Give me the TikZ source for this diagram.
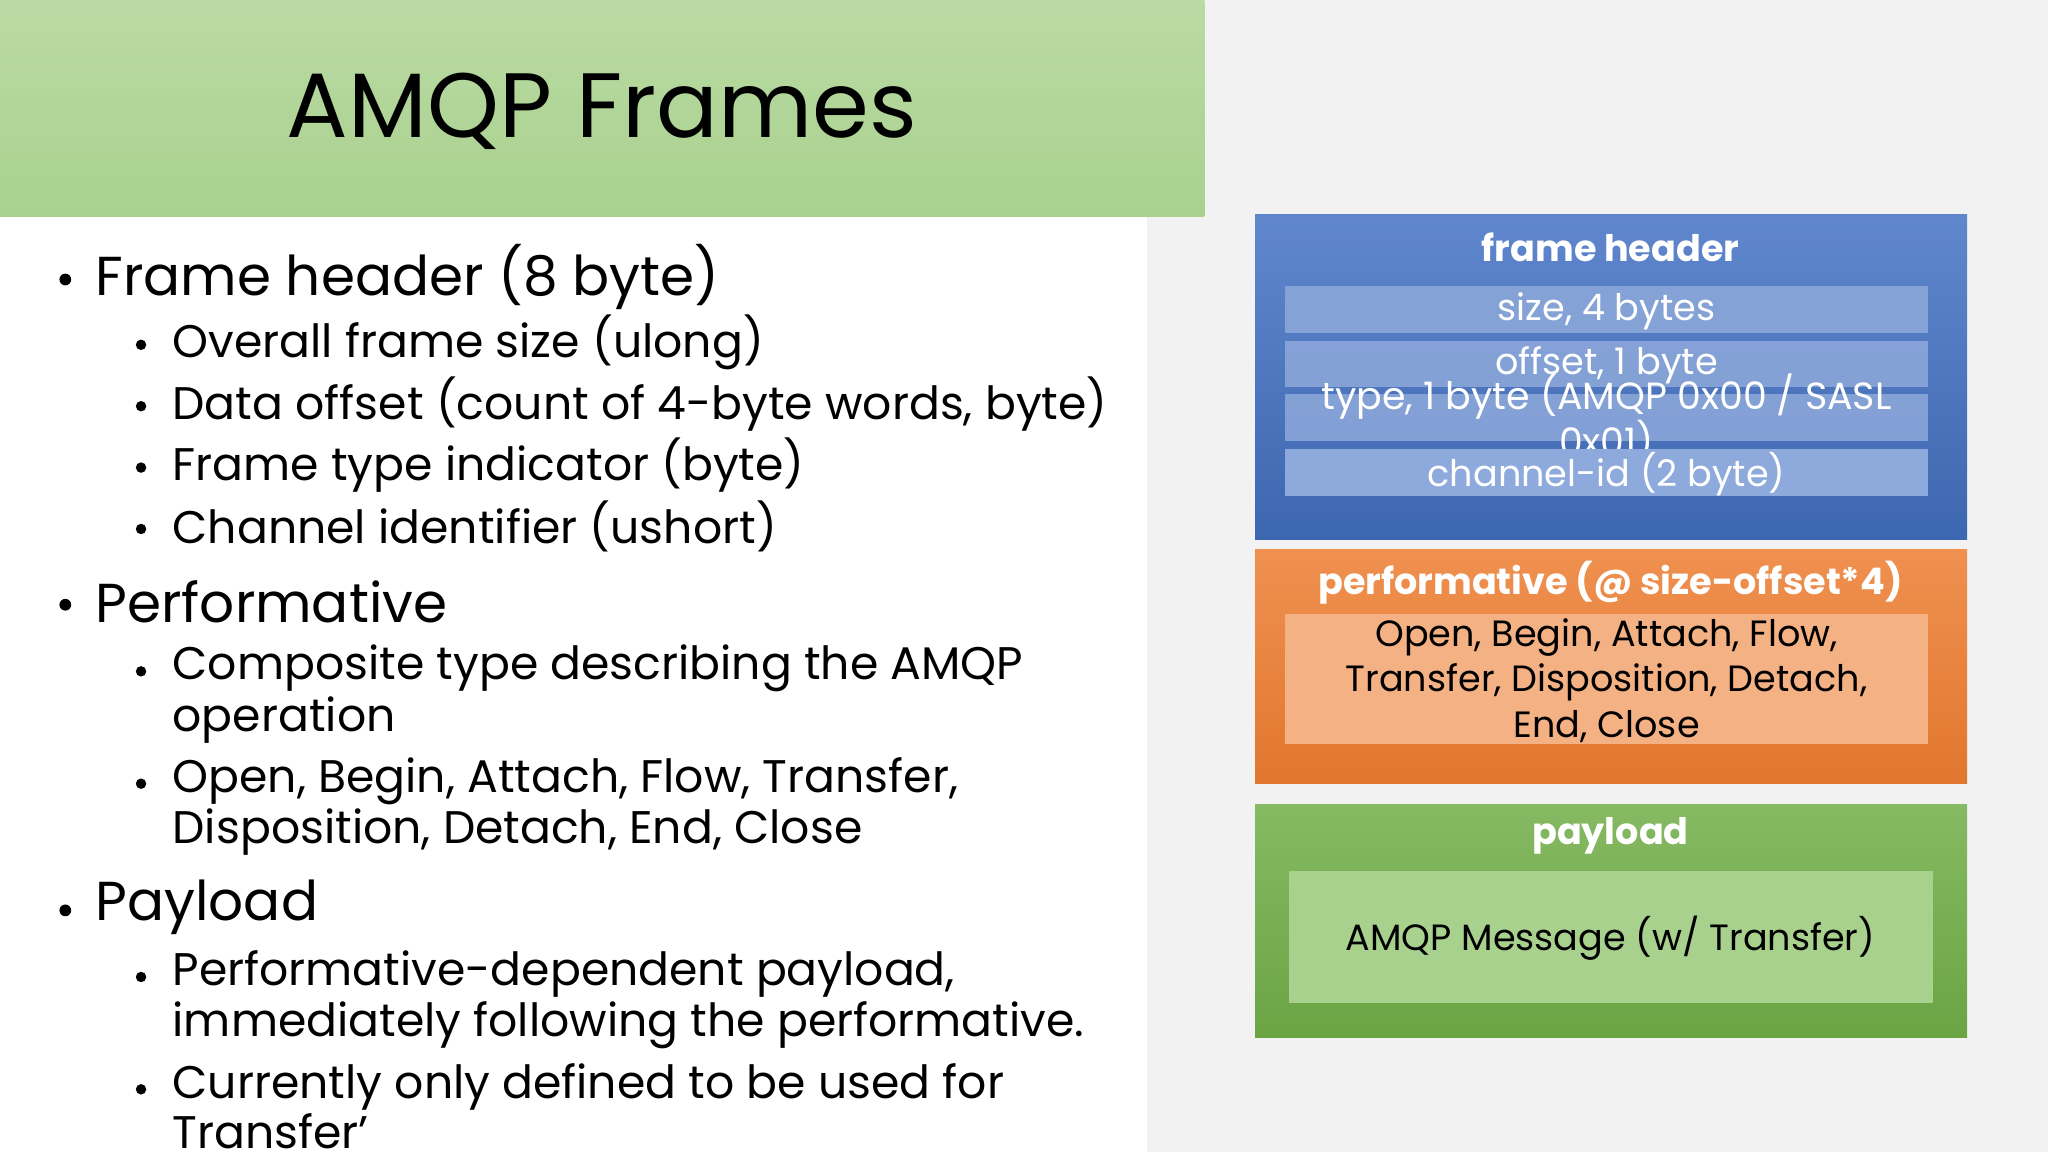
\documentclass[tikz,border=0pt]{standalone}
\usepackage{fontspec}
\setmainfont{Poppins}
\definecolor{bg}{HTML}{F2F2F2}
\definecolor{titlegreen}{HTML}{A9D18E}
\definecolor{bblue}{HTML}{4472C4}
\definecolor{bblueL}{HTML}{8EA9DB}
\definecolor{borange}{HTML}{ED7D31}
\definecolor{borangeL}{HTML}{F4B183}
\definecolor{bgreen}{HTML}{70AD47}
\definecolor{bgreenL}{HTML}{A9D18E}
\tikzset{
 lone/.style={anchor=west,font=\fontsize{42}{46}\selectfont,inner sep=0pt},
 ltwo/.style={anchor=west,font=\fontsize{35}{39}\selectfont,inner sep=0pt},
 bul/.style={circle,fill=black,inner sep=0pt,minimum size=9pt},
 btitle/.style={text=white,font=\fontsize{28}{30}\selectfont\bfseries},
 btext/.style={text=white,font=\fontsize{28}{30}\selectfont},
 dtext/.style={text=black,font=\fontsize{28}{35}\selectfont,align=center}
}
\begin{document}
\begin{tikzpicture}[x=1pt,y=-1pt]
\useasboundingbox (0,0) rectangle (1568,882);
\fill[bg] (0,0) rectangle (1568,882);
\fill[white] (0,166) rectangle (878,882);
\shade[top color=titlegreen!80!white,bottom color=titlegreen] (0,0) rectangle (922,166);
\node[font=\fontsize{70}{70}\selectfont] (title) at (461,85) {AMQP Frames};
% bullets
\foreach \y/\t in {212/Frame header (8 byte),461/Performative,695/Payload}{
 \node[bul] at (50,\y+2) {};
 \node[lone] at (73,\y) {\t};}
\foreach \y/\t in {262/Overall frame size (ulong),309/{Data offset (count of 4-byte words, byte)},356/Frame type indicator (byte),403/Channel identifier (ushort),512/Composite type describing the AMQP,598/{Open, Begin, Attach, Flow, Transfer,},746/{Performative-dependent payload,},832/Currently only defined to be used for}{
 \node[bul,minimum size=8pt] at (108,\y+2) {};
 \node[ltwo] at (132,\y) {\t};}
\foreach \y/\t in {551/operation,637/{Disposition, Detach, End, Close},785/{immediately following the performative.},866/Transfer’}{
 \node[ltwo] at (132,\y) {\t};}
% blue box
\shade[top color=bblue!85!white,bottom color=bblue!90!black] (961,164) rectangle (1506,413);
\node[btitle] (fh) at (1233,189) {frame header};
\fill[bblueL,opacity=.85] (984,219) rectangle (1476,255);
\fill[bblueL,opacity=.85] (984,261) rectangle (1476,296);
\fill[bblueL,opacity=.85] (984,302) rectangle (1476,338);
\node[btext] (s) at (1230,238) {size, 4 bytes};
\node[btext] (o) at (1230,280) {offset, 1 byte};
\node[btext,align=center,font=\fontsize{29}{34}\selectfont] (t) at (1230,320) {type, 1 byte (AMQP 0x00 / SASL\\0x01)};
\fill[bblueL] (984,344) rectangle (1476,380);
\node[btext] (c) at (1230,363) {channel-id (2 byte)};
% orange
\shade[top color=borange!85!white,bottom color=borange!95!black] (961,421) rectangle (1506,600);
\node[btitle] (pt) at (1233,446) {performative (@ size-offset*4)};
\fill[borangeL] (984,470) rectangle (1476,570);
\node[dtext] (pb) at (1230,521) {Open, Begin, Attach, Flow,\\Transfer, Disposition, Detach,\\End, Close};
% green
\shade[top color=bgreen!85!white,bottom color=bgreen!95!black] (961,616) rectangle (1506,794);
\node[btitle] (pl) at (1233,640) {payload};
\fill[bgreenL] (987,667) rectangle (1480,768);
\node[dtext] (pm) at (1233,718) {AMQP Message (w/ Transfer)};
\end{tikzpicture}
\end{document}
